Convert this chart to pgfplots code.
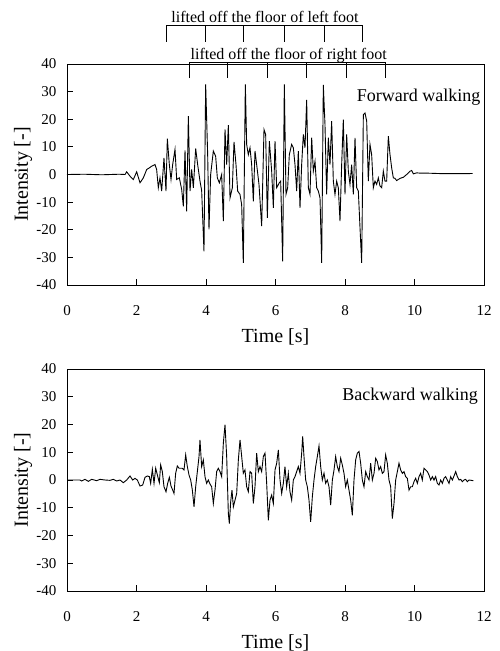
\documentclass[border=0pt]{standalone}
\usepackage{pgfplots}
\pgfplotsset{compat=1.18}
\usepackage{fontspec}
\setmainfont{Liberation Serif}
\pgfplotsset{
  mystyle/.style={
    scale only axis, width=417pt,
    xmin=0,xmax=12,ymin=-40,ymax=40,
    xtick={0,2,...,12}, ytick={-40,-30,...,40},
    tick pos=left, tick align=inside, major tick length=6pt,
    axis line style={line width=1pt},
    every tick/.style={black,line width=0.8pt},
    /pgf/number format/assume math mode=true,
    tick label style={font=\fontsize{15}{18}\selectfont},
    yticklabel style={xshift=-7pt},
    xticklabel style={yshift=-17pt},
    label style={font=\fontsize{20}{24}\selectfont},
    xlabel={Time [s]}, ylabel={Intensity [-]},
    xlabel style={at={(axis description cs:0.5,0)}, anchor=base, yshift=-57pt},
    ylabel style={at={(axis description cs:0,0.5)}, anchor=center, yshift=44pt},
    clip=false,
  }
}
\begin{document}
\begin{tikzpicture}
\useasboundingbox (0,0) rectangle (499pt,-651pt);
\begin{axis}[mystyle, height=221pt, at={(67pt,-285pt)}, anchor=south west]
\addplot[black, line width=0.9pt] table {
0 0
0.5 0.1
1.0 -0.1
1.5 0.1
1.67 0
1.717 0.97
1.813 -0.6
1.909 -1.8
2.005 0.97
2.101 -3.0
2.197 -1.2
2.293 1.8
2.369 2.4
2.436 3.0
2.532 3.6
2.580 1.8
2.628 -4.8
2.676 -1.2
2.724 -6.0
2.791 6.0
2.849 -6.0
2.887 13.0
2.945 3.6
2.993 -1.8
3.041 3.6
3.108 9.1
3.156 -1.8
3.233 -1.2
3.300 -5.4
3.348 -11.5
3.396 8.7
3.444 -13.3
3.492 21.1
3.540 -6.0
3.588 1.8
3.636 -4.8
3.703 9.4
3.760 3.6
3.827 -2.4
3.875 -5.8
3.942 -27.8
3.990 32.6
4.048 7.2
4.086 -19.9
4.134 0
4.211 8.5
4.278 6.6
4.326 -1.2
4.384 -3.0
4.451 0
4.499 -16.9
4.547 16.3
4.595 3.6
4.643 17.9
4.691 -8.5
4.758 -4.8
4.806 11.8
4.863 3.6
4.911 -6.0
4.978 -7.2
5.026 -10.9
5.074 -32.0
5.132 32.6
5.170 10.9
5.218 7.2
5.266 9.7
5.314 3.6
5.362 -9.7
5.410 8.5
5.458 3.6
5.525 -3.6
5.602 -18.7
5.669 16.3
5.717 14.5
5.765 -15.7
5.823 12.1
5.890 1.2
5.938 -12.1
5.986 12.1
6.034 -4.8
6.110 -3.0
6.149 -2.4
6.206 -31.4
6.254 32.6
6.302 -7.2
6.350 -4.8
6.398 7.2
6.465 10.9
6.513 9.7
6.561 3.6
6.609 -6.0
6.657 8.5
6.705 -12.1
6.753 3.6
6.801 14.5
6.849 9.7
6.897 27.0
6.945 -4.8
6.993 -7.2
7.041 13.3
7.089 1.2
7.137 4.8
7.185 -4.8
7.233 -6.0
7.281 -8.5
7.329 -32.0
7.376 32.4
7.424 18.1
7.472 -7.2
7.520 13.3
7.568 3.6
7.616 19.3
7.664 -2.4
7.712 -7.2
7.760 -2.4
7.808 -4.8
7.856 -16.9
7.904 3.6
7.952 19.9
8.000 -7.2
8.048 14.5
8.096 1.2
8.144 -3.6
8.192 3.6
8.240 -7.2
8.288 13.3
8.336 -4.8
8.384 -6.0
8.432 -19.3
8.480 -32.0
8.528 21.7
8.576 22.3
8.624 19.3
8.671 -2.4
8.719 10.9
8.767 7.2
8.815 -4.8
8.863 -2.4
8.911 -3.6
8.959 -1.2
9.007 -4.2
9.055 -4.8
9.103 1.2
9.151 -2.4
9.199 -2.4
9.247 13.9
9.295 7.2
9.343 2.4
9.391 -1.2
9.439 -1.4
9.487 -2.2
9.583 -1.4
9.679 -1.0
9.775 0
9.871 1.2
9.919 1.45
9.967 0.24
10.062 0.6
10.158 0.5
10.350 0.5
10.830 0.3
11.309 0.3
11.674 0.36
};
\node[anchor=east, inner sep=0pt, font=\fontsize{18}{22}\selectfont] at (axis cs:11.9,28) {Forward walking};
% left foot bracket
\draw[line width=0.6pt] (axis cs:2.849,48.1) -- (axis cs:2.849,53.9) -- (axis cs:8.489,53.9) -- (axis cs:8.489,48.1);
\draw[line width=0.6pt] (axis cs:3.971,53.9) -- (axis cs:3.971,48.1);
\draw[line width=0.6pt] (axis cs:5.065,53.9) -- (axis cs:5.065,48.1);
\draw[line width=0.6pt] (axis cs:6.245,53.9) -- (axis cs:6.245,48.1);
\draw[line width=0.6pt] (axis cs:7.396,53.9) -- (axis cs:7.396,48.1);
% right foot bracket
\draw[line width=0.6pt] (axis cs:3.52,34.9) -- (axis cs:3.52,40.6) -- (axis cs:9.15,40.6) -- (axis cs:9.15,34.9);
\draw[line width=0.6pt] (axis cs:4.62,40.6) -- (axis cs:4.62,34.9);
\draw[line width=0.6pt] (axis cs:5.75,40.6) -- (axis cs:5.75,34.9);
\draw[line width=0.6pt] (axis cs:6.90,40.6) -- (axis cs:6.90,34.9);
\draw[line width=0.6pt] (axis cs:8.05,40.6) -- (axis cs:8.05,34.9);
\node[anchor=base, inner sep=0pt, font=\fontsize{16}{19}\selectfont] at (axis cs:5.70,55.1) {lifted off the floor of left foot};
\node[anchor=base, inner sep=0pt, font=\fontsize{16}{19}\selectfont] at (axis cs:6.38,41.8) {lifted off the floor of right foot};
\end{axis}
\begin{axis}[mystyle, height=222pt, at={(67pt,-591pt)}, anchor=south west]
\addplot[black, line width=0.9pt] table {
0 0
0.374 0
0.422 -0.36
0.518 0.24
0.614 -0.48
0.710 0.24
0.854 -0.24
0.950 0.24
1.094 0
1.237 -0.12
1.333 0.24
1.429 -0.36
1.525 0
1.621 -0.97
1.717 0
1.813 1.45
1.890 0
1.957 0.6
2.024 0
2.101 -2.17
2.178 -1.81
2.245 0.97
2.312 1.45
2.369 1.21
2.408 -1.21
2.456 3.86
2.504 -1.21
2.552 4.23
2.600 1.81
2.657 -0.97
2.695 5.43
2.743 3.02
2.791 -2.42
2.849 -4.23
2.897 -1.21
2.945 0.97
2.993 -2.17
3.041 -3.62
3.079 -4.83
3.127 2.42
3.175 5.07
3.223 4.23
3.271 4.23
3.319 4.23
3.367 3.62
3.415 9.06
3.463 4.83
3.511 1.81
3.559 0
3.607 -3.62
3.655 -9.66
3.703 -2.42
3.751 3.02
3.799 8.45
3.827 14.49
3.875 4.83
3.923 7.25
3.971 1.21
4.019 -1.21
4.067 0
4.115 -1.45
4.163 -2.42
4.211 -8.45
4.259 -3.62
4.307 3.02
4.355 4.23
4.403 3.02
4.451 1.21
4.499 13.28
4.547 19.93
4.595 8.45
4.643 -12.08
4.672 -15.7
4.710 -7.85
4.748 -3.62
4.787 -9.66
4.835 -7.25
4.883 -4.83
4.931 7.25
4.979 14.49
5.027 8.45
5.074 2.42
5.122 3.62
5.170 -2.42
5.218 -4.23
5.266 3.02
5.314 2.42
5.362 -8.45
5.410 -2.42
5.458 9.66
5.506 3.02
5.554 4.83
5.602 3.02
5.650 8.45
5.698 9.66
5.746 -1.21
5.794 -14.5
5.842 -7.25
5.890 -5.43
5.938 -8.45
5.986 3.62
6.034 6.04
6.082 10.87
6.130 0
6.178 -4.83
6.225 -1.21
6.273 4.83
6.321 -2.42
6.369 2.42
6.417 -4.23
6.465 -7.25
6.513 0
6.561 1.21
6.609 3.02
6.657 4.83
6.705 2.42
6.753 9.66
6.782 15.7
6.820 8.45
6.868 0
6.916 -2.42
6.964 -7.25
7.012 -15.1
7.060 -6.04
7.108 0
7.156 4.83
7.204 8.45
7.252 12.3
7.300 4.83
7.348 0
7.396 2.42
7.444 -1.21
7.492 0
7.540 -2.42
7.588 -9.06
7.636 0
7.684 3.62
7.731 8.45
7.779 4.83
7.827 3.02
7.875 7.85
7.923 5.43
7.971 2.42
8.019 -2.42
8.067 0
8.115 -3.62
8.163 -7.25
8.211 -12.7
8.259 0
8.307 7.25
8.355 9.66
8.403 10.3
8.451 6.04
8.499 0
8.547 -2.42
8.595 3.02
8.643 1.21
8.691 0
8.739 6.04
8.787 0
8.835 2.42
8.883 7.85
8.931 6.64
8.978 3.62
9.026 4.83
9.074 2.42
9.122 3.02
9.170 9.06
9.218 6.04
9.266 0
9.314 -2.42
9.362 -13.9
9.410 -8.45
9.458 0
9.506 3.02
9.554 6.04
9.602 3.62
9.650 2.42
9.698 3.02
9.746 1.21
9.794 0.6
9.842 -3.62
9.890 -2.42
9.938 -2.42
9.986 -0.6
10.034 0.6
10.082 -1.21
10.130 1.21
10.177 2.42
10.225 0
10.273 4.23
10.321 3.62
10.369 3.02
10.417 1.81
10.465 0
10.513 1.21
10.561 0
10.609 1.21
10.657 -1.21
10.705 -1.81
10.753 0
10.801 -1.21
10.849 0.6
10.897 1.21
10.945 0
10.993 -1.21
11.041 1.21
11.089 0
11.137 1.45
11.185 3.02
11.233 1.21
11.281 0
11.329 0.24
11.376 -0.6
11.424 0
11.472 0.24
11.520 -0.6
11.568 0
11.693 -0.24
};
\node[anchor=east, inner sep=0pt, font=\fontsize{18}{22}\selectfont] at (axis cs:11.83,30.2) {Backward walking};
\end{axis}
\end{tikzpicture}
\end{document}
